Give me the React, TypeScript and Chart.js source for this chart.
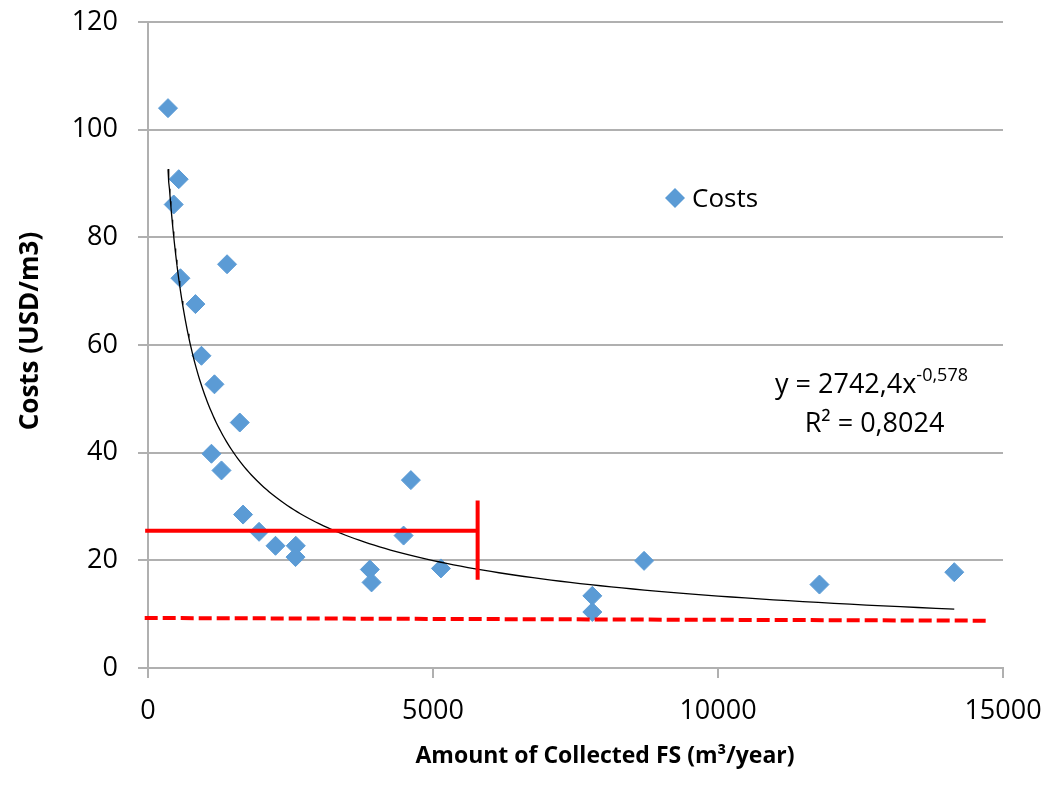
import React, { useEffect, useRef } from "react";
import { Chart, registerables } from "chart.js";

Chart.register(...registerables);

// Scatter data: amount of collected FS (m3/year) vs costs (USD/m3)
const amounts = [351, 451, 539, 569, 1387, 832, 938, 1166, 1610, 1113, 1289, 1668, 1949, 2237, 2593, 2588, 3892, 3922, 4484, 4612, 5139, 7795, 7795, 8703, 11780, 14145];
const costs = [104.0, 86.1, 90.8, 72.4, 75.0, 67.6, 58.0, 52.7, 45.6, 39.8, 36.7, 28.5, 25.3, 22.7, 22.7, 20.6, 18.3, 15.9, 24.6, 34.9, 18.5, 13.4, 10.4, 19.9, 15.5, 17.8];

// Power trendline as displayed: y = 2742,4 x^-0,578
const trendCoef = 2742.4;
const trendExp = -0.578;
const trendSamples = 160;

// Ticks
const xTicks = [0, 5000, 10000, 15000];
const yTicks = [0, 20, 40, 60, 80, 100, 120];

// Red annotation lines
const limitLineX = [-50, 5783];
const limitLineY = [25.5, 25.5];
const limitBarX = [5783, 5783];
const limitBarY = [31.1, 16.4];
const dashedLineX = [-58, 14758];
const dashedLineY = [9.29, 8.79];

const FONT = "'Open Sans', 'DejaVu Sans', sans-serif";
const GRID = "#b0b0b0";
const BLUE = "#5b9bd5";

function buildTrend() {
  const minX = Math.min(...amounts);
  const maxX = Math.max(...amounts);
  const pts: { x: number; y: number }[] = [];
  for (let i = 0; i <= trendSamples; i++) {
    const x = minX * Math.pow(maxX / minX, i / trendSamples);
    pts.push({ x, y: trendCoef * Math.pow(x, trendExp) });
  }
  return pts;
}

const textPlugin = {
  id: "textPlugin",
  afterDraw(chart: any) {
    const ctx = chart.ctx as CanvasRenderingContext2D;
    ctx.save();
    ctx.fillStyle = "#000";

    // Legend
    const lx = 675, ly = 198, r = 10;
    ctx.beginPath();
    ctx.moveTo(lx, ly - r);
    ctx.lineTo(lx + r, ly);
    ctx.lineTo(lx, ly + r);
    ctx.lineTo(lx - r, ly);
    ctx.closePath();
    ctx.fillStyle = BLUE;
    ctx.fill();
    ctx.fillStyle = "#000";
    ctx.font = `26px ${FONT}`;
    ctx.textAlign = "left";
    ctx.textBaseline = "alphabetic";
    ctx.fillText("Costs", 692, 207);

    // Equation
    ctx.font = `27px ${FONT}`;
    const main = "y = 2742,4x";
    const sup = "-0,578";
    const wMain = ctx.measureText(main).width;
    ctx.font = `18px ${FONT}`;
    const wSup = ctx.measureText(sup).width;
    const start1 = 871.5 - (wMain + wSup) / 2;
    ctx.font = `27px ${FONT}`;
    ctx.fillText(main, start1, 393);
    ctx.font = `18px ${FONT}`;
    ctx.fillText(sup, start1 + wMain, 381);
    ctx.font = `27px ${FONT}`;
    ctx.textAlign = "center";
    ctx.fillText("R² = 0,8024", 874.5, 432);

    // Axis titles
    ctx.font = `bold 23px ${FONT}`;
    ctx.textAlign = "center";
    ctx.fillText("Amount of Collected FS (m³/year)", 605, 763);
    ctx.font = `bold 26px ${FONT}`;
    ctx.translate(38, 331);
    ctx.rotate(-Math.PI / 2);
    ctx.fillText("Costs (USD/m3)", 0, 0);
    ctx.restore();
  },
};

export default function App() {
  const canvasRef = useRef<HTMLCanvasElement | null>(null);

  useEffect(() => {
    const canvas = canvasRef.current;
    if (!canvas) return;
    const chart = new Chart(canvas, {
      type: "scatter",
      data: {
        datasets: [
          {
            type: "line",
            label: "limit",
            data: limitLineX.map((x, i) => ({ x, y: limitLineY[i] })),
            borderColor: "#ff0000",
            borderWidth: 4,
            pointRadius: 0,
            showLine: true,
            clip: false,
          } as any,
          {
            type: "line",
            label: "limitBar",
            data: limitBarX.map((x, i) => ({ x, y: limitBarY[i] })),
            borderColor: "#ff0000",
            borderWidth: 4,
            pointRadius: 0,
            showLine: true,
            clip: false,
          } as any,
          {
            type: "line",
            label: "dashed",
            data: dashedLineX.map((x, i) => ({ x, y: dashedLineY[i] })),
            borderColor: "#ff0000",
            borderWidth: 4,
            borderDash: [13, 5],
            pointRadius: 0,
            showLine: true,
            clip: false,
          } as any,
          {
            type: "line",
            label: "Trend",
            data: buildTrend(),
            borderColor: "#000000",
            borderWidth: 1.3,
            pointRadius: 0,
            showLine: true,
            tension: 0,
          } as any,
          {
            type: "scatter",
            label: "Costs",
            data: amounts.map((x, i) => ({ x, y: costs[i] })),
            pointStyle: "rectRot",
            pointRadius: 9.5,
            backgroundColor: BLUE,
            borderColor: BLUE,
            borderWidth: 1,
          },
        ],
      },
      options: {
        animation: false,
        responsive: false,
        maintainAspectRatio: false,
        layout: { padding: { left: 0, top: 22, right: 43, bottom: 0 } },
        plugins: { legend: { display: false }, tooltip: { enabled: false } },
        scales: {
          x: {
            type: "linear",
            min: 0,
            max: 15000,
            afterFit: (s: any) => {
              s.height = 119;
              s.paddingLeft = 0;
              s.paddingRight = 0;
            },
            afterBuildTicks: (s: any) => {
              s.ticks = xTicks.map((v) => ({ value: v }));
            },
            grid: { drawOnChartArea: false, drawTicks: true, tickLength: 10, color: GRID, lineWidth: 2 },
            border: { display: true, color: GRID, width: 2 },
            ticks: {
              font: { family: FONT, size: 27 },
              color: "#000",
              padding: 17,
              maxRotation: 0,
              autoSkip: false,
              callback: (v: any) => String(v),
            },
          },
          y: {
            type: "linear",
            min: 0,
            max: 120,
            afterFit: (s: any) => {
              s.width = 148;
              s.paddingTop = 0;
              s.paddingBottom = 0;
            },
            afterBuildTicks: (s: any) => {
              s.ticks = yTicks.map((v) => ({ value: v }));
            },
            grid: { drawOnChartArea: true, drawTicks: true, tickLength: 10, color: GRID, lineWidth: 2 },
            border: { display: true, color: GRID, width: 2 },
            ticks: {
              font: { family: FONT, size: 27 },
              color: "#000",
              padding: 20,
              callback: (v: any) => String(v),
            },
          },
        },
      },
      plugins: [textPlugin],
    } as any);
    return () => chart.destroy();
  }, []);

  return (
    <div style={{ position: "absolute", left: 0, top: 0, width: 1046, height: 787, background: "#fff" }}>
      <canvas ref={canvasRef} width={1046} height={787} style={{ width: 1046, height: 787 }} />
    </div>
  );
}
